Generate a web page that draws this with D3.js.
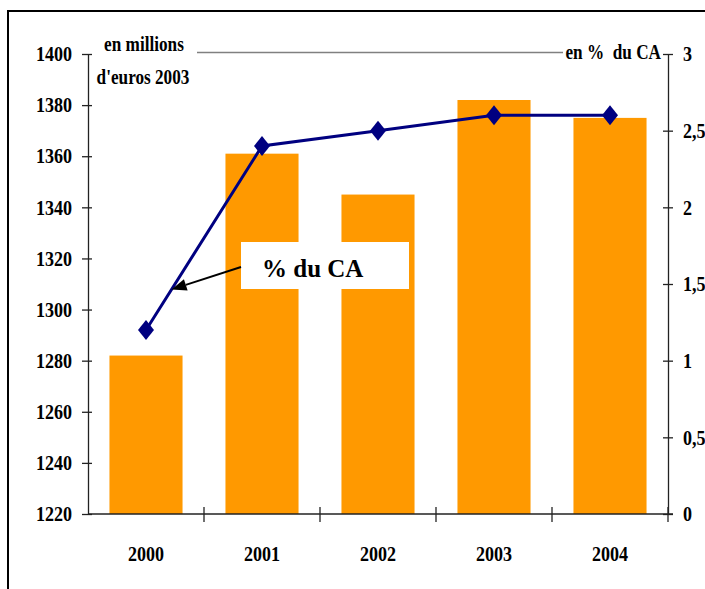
<!DOCTYPE html>
<html>
<head>
<meta charset="utf-8">
<script src="https://cdn.jsdelivr.net/npm/d3@7"></script>
<style>
  html, body { margin: 0; padding: 0; background: #fff; }
  svg { display: block; }
  svg text { font-family: "Liberation Serif", "DejaVu Serif", serif; font-weight: bold; fill: #000; }
</style>
</head>
<body>
<svg id="chart" width="705" height="589"></svg>
<script>
const years = ["2000", "2001", "2002", "2003", "2004"];
const caValues = [1282, 1361, 1345, 1382, 1375];
const pctValues = [1.2, 2.4, 2.5, 2.6, 2.6];
const leftTicks = [1220, 1240, 1260, 1280, 1300, 1320, 1340, 1360, 1380, 1400];
const rightTicks = [0, 0.5, 1, 1.5, 2, 2.5, 3];
const rightTickLabels = ["0", "0,5", "1", "1,5", "2", "2,5", "3"];
const leftUnit = ["en millions", "d'euros 2003"];
const rightUnit = "en %  du CA";
const calloutLabel = "% du CA";

(function () {
const SX = 0.86; // horizontal condensation of the axis lettering
const svg = d3.select("#chart");

// frame
svg.append("rect").attr("x", 8).attr("y", 11).attr("width", 720).attr("height", 600)
  .attr("fill", "none").attr("stroke", "#000").attr("stroke-width", 2);

const pLeft = 88, pRight = 668, pTop = 54, pBottom = 514;
const yL = d3.scaleLinear().domain([1220, 1400]).range([pBottom, pTop]);
const yR = d3.scaleLinear().domain([0, 3]).range([pBottom, pTop]);
const xCat = d3.scaleBand().domain(years).range([pLeft, pRight]);
const xBar = d3.scaleBand().domain(years).range([pLeft, pRight]).paddingInner(0.37).paddingOuter(0.185);

// top gray line
svg.append("line").attr("x1", 197).attr("x2", 563)
  .attr("y1", yL(1400) - 1.5).attr("y2", yL(1400) - 1.5)
  .attr("stroke", "#808080").attr("stroke-width", 1.5);

// bars
svg.append("g").selectAll("rect").data(years).join("rect")
  .attr("x", d => xBar(d))
  .attr("width", xBar.bandwidth())
  .attr("y", (d, i) => yL(caValues[i]))
  .attr("height", (d, i) => yL(1220) - yL(caValues[i]))
  .attr("fill", "#FF9900");

function styleAxis(g, size) {
  g.attr("font-family", null).attr("font-size", null);
  g.selectAll("text").style("font-size", size + "px");
  g.selectAll("line, path").attr("stroke", "#222").attr("stroke-width", 1.3);
}

// left axis
const padL = 16;
const gL = svg.append("g").attr("transform", `translate(${pLeft},0)`)
  .call(d3.axisLeft(yL).tickValues(leftTicks).tickFormat(d3.format("d"))
    .tickSizeInner(6).tickSizeOuter(0).tickPadding(padL - 6));
styleAxis(gL, 21);
gL.selectAll(".tick line").attr("x1", 4).attr("x2", -6);
gL.selectAll(".tick text").attr("x", -padL / SX).attr("transform", `scale(${SX},1)`);

// right axis
const padR = 15;
const gR = svg.append("g").attr("transform", `translate(${pRight},0)`)
  .call(d3.axisRight(yR).tickValues(rightTicks).tickFormat((d, i) => rightTickLabels[i])
    .tickSizeInner(5).tickSizeOuter(0).tickPadding(padR - 5));
styleAxis(gR, 21);
gR.selectAll(".tick line").attr("x1", -5).attr("x2", 5);
gR.selectAll(".tick text").attr("x", padR / SX).attr("transform", `scale(${SX},1)`);

// bottom axis (labels at category centres)
const gB = svg.append("g").attr("transform", `translate(0,${pBottom})`)
  .call(d3.axisBottom(xCat).tickSize(0).tickPadding(32));
styleAxis(gB, 21);
gB.selectAll(".tick text").attr("transform", `scale(${SX},1)`);
gB.select(".domain").attr("d", `M${pLeft},0H${pRight + 5}`);
const bounds = years.map(d => xCat(d)).concat([xCat(years[years.length - 1]) + xCat.bandwidth()]);
gB.append("g").selectAll("line").data(bounds.slice(1)).join("line")
  .attr("x1", d => d).attr("x2", d => d).attr("y1", -7).attr("y2", 8)
  .attr("stroke", "#222").attr("stroke-width", 1.3);

// unit labels
function unitText(x, y, anchor, txt) {
  return svg.append("text").attr("transform", `translate(${x},${y}) scale(${SX},1)`)
    .attr("text-anchor", anchor).style("font-size", "20px").style("white-space", "pre").text(txt);
}
unitText(144, 51, "middle", leftUnit[0]);
unitText(143, 84, "middle", leftUnit[1]);
unitText(661, 59, "end", rightUnit);

// callout box
svg.append("rect").attr("x", 241).attr("y", 242).attr("width", 168).attr("height", 47).attr("fill", "#fff");
svg.append("text").attr("x", 262).attr("y", 277).style("font-size", "25px").text(calloutLabel);

// line series
const cx = (d) => xCat(d) + xCat.bandwidth() / 2;
const line = d3.line().x((d, i) => cx(years[i])).y(d => yR(d));
svg.append("path").datum(pctValues).attr("d", line)
  .attr("fill", "none").attr("stroke", "#000080").attr("stroke-width", 3);
svg.append("g").selectAll("path").data(pctValues).join("path")
  .attr("transform", (d, i) => `translate(${cx(years[i])},${yR(d)})`)
  .attr("d", "M0,-10L8,0L0,10L-8,0Z").attr("fill", "#000080");

// arrow from callout to the line
const t = 0.22;
const tipX = cx(years[0]) + t * (cx(years[1]) - cx(years[0]));
const tipY = yR(pctValues[0]) + t * (yR(pctValues[1]) - yR(pctValues[0]));
const sx = 241, sy = 267;
const ang = Math.atan2(tipY - sy, tipX - sx);
const L = 15, W = 6;
const bx = tipX - L * Math.cos(ang), by = tipY - L * Math.sin(ang);
svg.append("line").attr("x1", sx).attr("y1", sy).attr("x2", bx).attr("y2", by)
  .attr("stroke", "#000").attr("stroke-width", 2);
svg.append("path")
  .attr("d", `M${tipX},${tipY}L${bx + W * Math.sin(ang)},${by - W * Math.cos(ang)}L${bx - W * Math.sin(ang)},${by + W * Math.cos(ang)}Z`)
  .attr("fill", "#000");
})();
</script>
</body>
</html>
